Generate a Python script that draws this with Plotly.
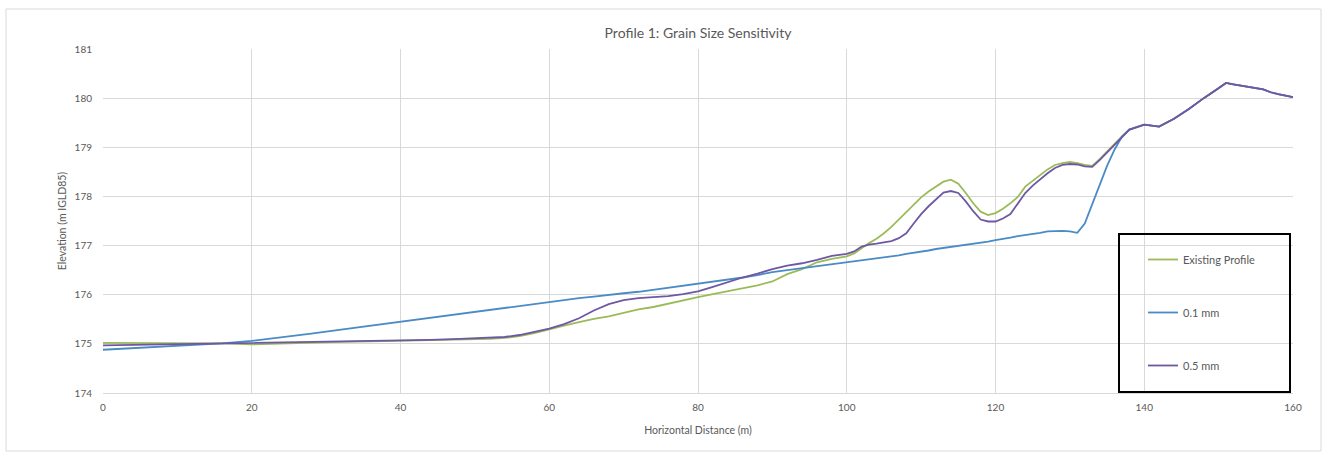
import plotly.graph_objects as go

# ---- data ----
distance = [0, 4, 8, 12, 16, 20, 24, 28, 32, 36, 40, 44, 48, 52,
            54, 56, 58, 60, 62, 64, 66, 68, 70, 72, 74, 76, 78, 80, 82, 84, 86, 88, 90, 92, 94, 96, 98, 100,
            101, 102, 103, 104, 105, 106, 107, 108, 109, 110, 111, 112, 113, 114, 115, 116, 117, 118, 119, 120,
            121, 122, 123, 124, 125, 126, 127, 128, 129, 130, 131, 132, 133, 134, 135, 136, 137, 138,
            140, 142, 144, 146, 148, 150, 151, 152, 154, 156, 157, 158, 160]

existing = [175.02, 175.02, 175.01, 175.01, 175.01, 174.99, 175.01, 175.03, 175.04, 175.05, 175.06, 175.07, 175.08, 175.10,
            175.12, 175.16, 175.22, 175.30, 175.37, 175.44, 175.51, 175.56, 175.63, 175.70, 175.75, 175.82, 175.88, 175.95,
            176.01, 176.07, 176.13, 176.19, 176.27, 176.42, 176.52, 176.66, 176.73, 176.78,
            176.84, 176.95, 177.05, 177.14, 177.25, 177.38, 177.53, 177.68, 177.84, 177.98, 178.10, 178.20, 178.30, 178.34,
            178.26, 178.07, 177.86, 177.69, 177.62, 177.66, 177.75, 177.86, 177.99, 178.20, 178.32, 178.43, 178.55, 178.64,
            178.68, 178.70, 178.68, 178.64, 178.62, 178.76, 178.92, 179.06, 179.22, 179.36,
            179.46, 179.42, 179.58, 179.78, 180.00, 180.20, 180.31, 180.28, 180.23, 180.18, 180.12, 180.08, 180.02]

mm_01 = [174.88, 174.91, 174.94, 174.97, 175.01, 175.06, 175.13, 175.21, 175.29, 175.37, 175.46, 175.53, 175.62, 175.70,
         175.74, 175.78, 175.82, 175.86, 175.89, 175.93, 175.96, 176.00, 176.03, 176.06, 176.10, 176.14, 176.19, 176.23,
         176.27, 176.31, 176.35, 176.40, 176.46, 176.50, 176.54, 176.57, 176.62, 176.66,
         176.67, 176.69, 176.71, 176.73, 176.75, 176.78, 176.80, 176.83, 176.85, 176.87, 176.90, 176.93, 176.95, 176.97,
         176.99, 177.01, 177.04, 177.06, 177.08, 177.11, 177.13, 177.16, 177.19, 177.21, 177.23, 177.26, 177.29, 177.30,
         177.30, 177.29, 177.26, 177.45, 177.85, 178.25, 178.62, 178.95, 179.22, 179.36,
         179.46, 179.42, 179.58, 179.78, 180.00, 180.20, 180.31, 180.28, 180.23, 180.18, 180.12, 180.08, 180.02]

mm_05 = [174.97, 174.98, 174.99, 175.00, 175.01, 175.01, 175.02, 175.04, 175.05, 175.06, 175.07, 175.08, 175.10, 175.12,
         175.14, 175.18, 175.24, 175.31, 175.40, 175.52, 175.68, 175.81, 175.89, 175.93, 175.95, 175.97, 176.01, 176.07,
         176.16, 176.26, 176.35, 176.43, 176.52, 176.59, 176.64, 176.71, 176.79, 176.83,
         176.88, 176.98, 177.02, 177.04, 177.06, 177.09, 177.15, 177.25, 177.45, 177.64, 177.80, 177.95, 178.08, 178.11,
         178.07, 177.90, 177.70, 177.53, 177.49, 177.49, 177.55, 177.64, 177.85, 178.07, 178.22, 178.35, 178.47, 178.58,
         178.64, 178.66, 178.65, 178.61, 178.60, 178.74, 178.90, 179.05, 179.22, 179.36,
         179.46, 179.42, 179.58, 179.78, 180.00, 180.20, 180.31, 180.28, 180.23, 180.18, 180.12, 180.08, 180.02]

series_names = ["Existing Profile", "0.1 mm", "0.5 mm"]
series_colors = ["#9BBB59", "#4A8BC6", "#6E58A4"]
x_ticks = [0, 20, 40, 60, 80, 100, 120, 140, 160]
y_ticks = [174, 175, 176, 177, 178, 179, 180, 181]

FONT = "Lato, 'Open Sans', sans-serif"
GRAY = "#595959"

fig = go.Figure()
for name, vals, col in zip(series_names, [existing, mm_01, mm_05], series_colors):
    fig.add_trace(go.Scatter(x=distance, y=vals, mode="lines", name=name,
                             line=dict(color=col, width=1.8), legendgroup=name))

W, H = 1324, 453
L, R, T, B = 103, 31, 49, 60
pw, ph = W - L - R, H - T - B

def px2x(px):
    return (px - L) / pw

def py2y(py):
    return (H - B - py) / ph

fig.update_layout(
    width=W, height=H,
    margin=dict(l=L, r=R, t=T, b=B),
    paper_bgcolor="white", plot_bgcolor="white",
    font=dict(family=FONT, color=GRAY, size=10),
    title=dict(text="Profile 1: Grain Size Sensitivity", x=0.5, xref="paper", xanchor="center",
               y=1 - 33 / H, yanchor="middle", font=dict(size=14, color=GRAY, family=FONT)),
    xaxis=dict(range=[0, 160], tickvals=x_ticks, showgrid=True, gridcolor="#D9D9D9", gridwidth=1,
               zeroline=False, showline=True, linecolor="#D9D9D9", linewidth=1, ticks="",
               tickfont=dict(size=10, color=GRAY), ticklabelstandoff=5,
               title=dict(text="Horizontal Distance (m)", font=dict(size=10.5, color=GRAY), standoff=14)),
    yaxis=dict(range=[174, 181], tickvals=y_ticks, showgrid=True, gridcolor="#D9D9D9", gridwidth=1,
               zeroline=False, showline=False, ticks="",
               tickfont=dict(size=10, color=GRAY), ticklabelstandoff=10,
               title=dict(text="Elevation (m IGLD85)", font=dict(size=10.5, color=GRAY), standoff=5)),
    legend=dict(x=px2x(1143), y=py2y(245), xanchor="left", yanchor="top",
                bgcolor="rgba(0,0,0,0)", borderwidth=0, tracegroupgap=34,
                font=dict(size=11, color=GRAY), itemwidth=30),
    showlegend=True,
)

# legend frame
fig.add_shape(type="rect", xref="paper", yref="paper",
              x0=px2x(1119), x1=px2x(1290), y0=py2y(392), y1=py2y(234),
              line=dict(color="#000000", width=2), fillcolor="rgba(0,0,0,0)", layer="above")
# outer chart border
fig.add_shape(type="rect", xref="paper", yref="paper",
              x0=px2x(6), x1=px2x(1321), y0=py2y(451), y1=py2y(9),
              line=dict(color="#D9D9D9", width=1), fillcolor="rgba(0,0,0,0)", layer="below")

fig.write_html("out.html", config={"displayModeBar": False},
               post_script="document.body.style.margin='0';document.body.style.overflow='hidden';")
